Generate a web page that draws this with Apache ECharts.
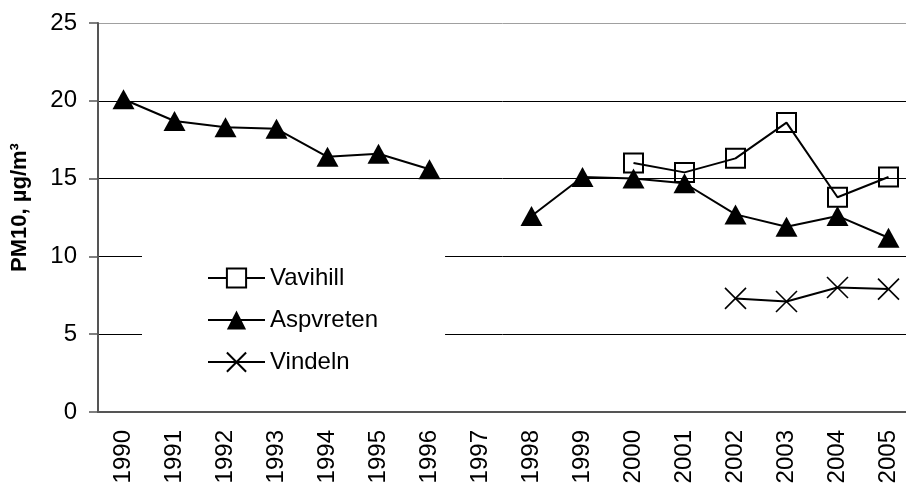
<!DOCTYPE html>
<html>
<head>
<meta charset="utf-8">
<title>PM10</title>
<script src="https://cdn.jsdelivr.net/npm/echarts@6/dist/echarts.min.js"></script>
<style>
  html, body { margin: 0; padding: 0; background: #fff; }
  #chart { width: 906px; height: 488px; }
</style>
</head>
<body>
<div id="chart"></div>
<script>
// values
var years = ['1990', '1991', '1992', '1993', '1994', '1995', '1996', '1997',
  '1998', '1999', '2000', '2001', '2002', '2003', '2004', '2005']
var vavihill = [null, null, null, null, null, null, null, null,
  null, null, 16.0, 15.4, 16.3, 18.6, 13.8, 15.1]
var aspvreten = [20.1, 18.7, 18.3, 18.2, 16.4, 16.6, 15.6, null,
  12.6, 15.1, 15.0, 14.7, 12.7, 11.9, 12.6, 11.2]
var vindeln = [null, null, null, null, null, null, null, null,
  null, null, null, null, 7.3, 7.1, 8.0, 7.9]
var yTicks = [0, 5, 10, 15, 20, 25]

var font = 'Liberation Sans, Arial, sans-serif'
var crossPath = 'path://M0,0L10,10M10,0L0,10'

var chart = echarts.init(document.getElementById('chart'))
chart.setOption({
  animation: false,
  backgroundColor: '#fff',
  grid: {
    left: 98,
    width: 816, // plot runs slightly past the picture edge
    top: 23,
    bottom: 76,
    outerBoundsMode: 'none'
  },
  legend: {
    orient: 'vertical',
    left: 142,
    top: 246,
    padding: [20, 67, 20, 65],
    backgroundColor: '#fff',
    itemWidth: 57,
    itemHeight: 24,
    itemGap: 18,
    selectedMode: false,
    textStyle: { color: '#000', fontSize: 24, fontFamily: font },
    data: [
      { name: 'Vavihill', itemStyle: { color: '#fff' } },
      { name: 'Aspvreten' },
      { name: 'Vindeln' }
    ]
  },
  xAxis: {
    type: 'category',
    data: years,
    boundaryGap: true,
    axisLine: { lineStyle: { color: '#555', width: 2 } },
    axisTick: { length: 8, lineStyle: { color: '#777', width: 1.5 } },
    axisLabel: {
      interval: 0,
      rotate: 90,
      margin: 18,
      color: '#000',
      fontSize: 24,
      fontFamily: font
    },
    splitLine: { show: false }
  },
  yAxis: {
    type: 'value',
    min: yTicks[0],
    max: yTicks[yTicks.length - 1],
    interval: 5,
    name: 'PM10, µg/m³',
    nameLocation: 'middle',
    nameGap: 67,
    nameTextStyle: {
      color: '#000', fontSize: 22, fontWeight: 'bold', fontFamily: font,
      padding: [0, 0, 0, 20]
    },
    axisLine: { show: true, lineStyle: { color: '#555', width: 2 } },
    axisTick: { show: true, length: 9, lineStyle: { color: '#555', width: 1.5 } },
    axisLabel: { margin: 21, color: '#000', fontSize: 24, fontFamily: font },
    splitLine: {
      lineStyle: { color: ['#000', '#000', '#000', '#000', '#000', '#a0a0a0'], width: 1 }
    }
  },
  series: [
    {
      name: 'Vavihill',
      type: 'line',
      data: vavihill,
      symbol: 'rect',
      symbolSize: 19,
      lineStyle: { color: '#000', width: 2 },
      itemStyle: { color: 'rgba(0,0,0,0)', borderColor: '#000', borderWidth: 2 }
    },
    {
      name: 'Aspvreten',
      type: 'line',
      data: aspvreten,
      symbol: 'triangle',
      symbolSize: [22, 20],
      lineStyle: { color: '#000', width: 2 },
      itemStyle: { color: '#000' }
    },
    {
      name: 'Vindeln',
      type: 'line',
      data: vindeln,
      symbol: crossPath,
      symbolSize: 21,
      lineStyle: { color: '#000', width: 2 },
      itemStyle: { color: 'none', borderColor: '#000', borderWidth: 1.6 }
    }
  ]
})
</script>
</body>
</html>
